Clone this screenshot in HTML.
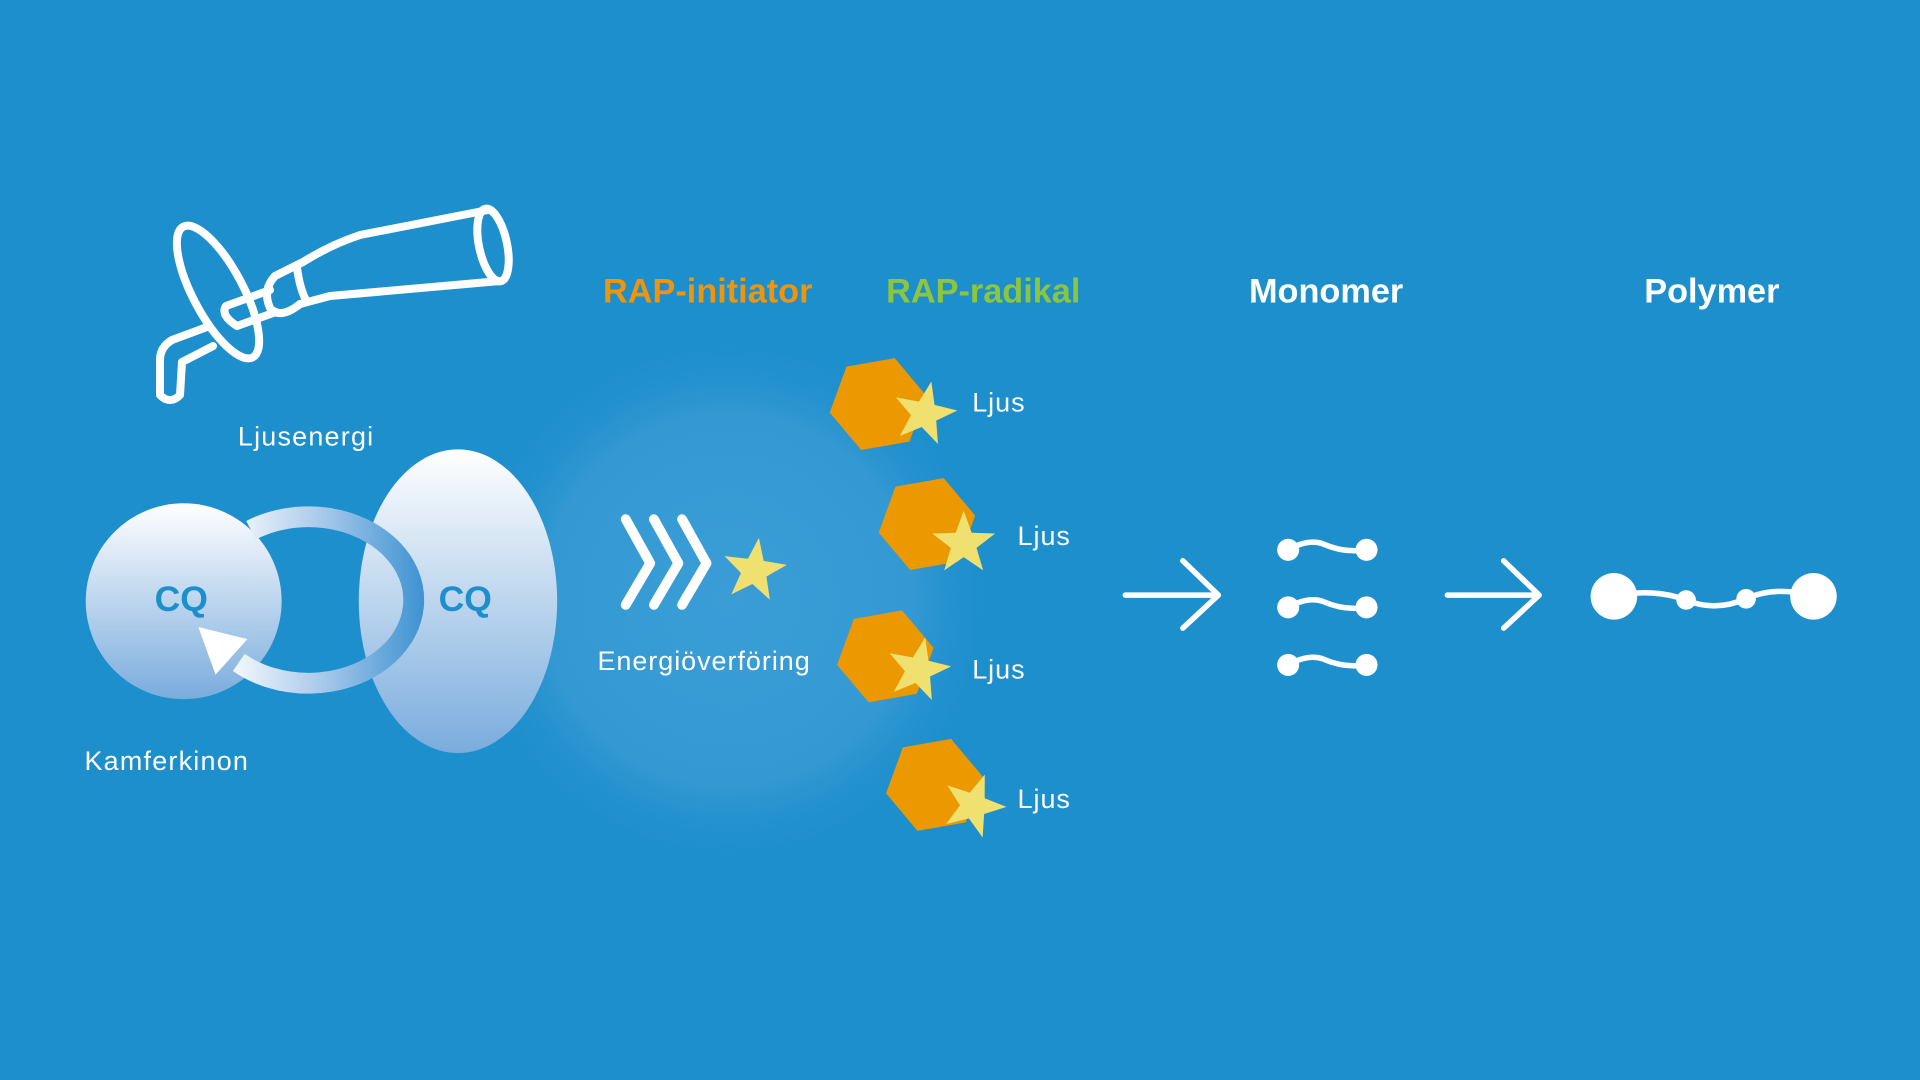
<!DOCTYPE html>
<html><head><meta charset="utf-8"><style>
html,body{margin:0;padding:0;background:#1e8fcd;}
svg{display:block}
text{font-family:"Liberation Sans",sans-serif;}
</style></head><body>
<svg width="1920" height="1080" viewBox="0 0 1568 882" xmlns="http://www.w3.org/2000/svg">
<defs>
<radialGradient id="glow" cx="0.5" cy="0.5" r="0.5">
<stop offset="0" stop-color="#3a9dd6"/><stop offset="0.7" stop-color="#3499d3"/><stop offset="1" stop-color="#1e8fcd" stop-opacity="0"/>
</radialGradient>
<linearGradient id="bub" x1="0" y1="0" x2="0" y2="1">
<stop offset="0" stop-color="#ffffff"/><stop offset="1" stop-color="#7aacdd"/>
</linearGradient>
<linearGradient id="ring" gradientUnits="userSpaceOnUse" x1="180" y1="0" x2="345" y2="0">
<stop offset="0" stop-color="#ffffff"/><stop offset="0.5" stop-color="#a9c9ea"/><stop offset="1" stop-color="#3f93d2"/>
</linearGradient>
<polygon id="star" points="0,-27 6.5,-8.9 25.7,-8.3 10.5,3.4 15.9,21.8 0,11 -15.9,21.8 -10.5,3.4 -25.7,-8.3 -6.5,-8.9" fill="#efe070"/>
<polygon id="hex" points="40,0 20,34.6 -20,34.6 -40,0 -20,-34.6 20,-34.6" fill="#ec9800"/>
</defs>
<rect width="1568" height="882" fill="#1e8fcd"/>
<circle cx="595" cy="490" r="215" fill="url(#glow)"/>

<!-- lamp -->
<g transform="scale(0.8167)" fill="none" stroke="#fff" stroke-width="8" stroke-linejoin="round" stroke-linecap="round">
<ellipse cx="493" cy="245" rx="14" ry="37" transform="rotate(-12 493 245)"/>
<path d="M488,210 L360,235 Q330,245 303,262 L275,276"/>
<path d="M500,281 L330,296 L300,304"/>
<path d="M297,268 Q300,290 307,302"/>
<path d="M275,276 Q262,290 270,308 Q280,320 300,304"/>
<ellipse cx="218" cy="292" rx="25" ry="74" transform="rotate(-28 218 292)"/>
<path d="M226,306 L270,290 M237,326 L276,312 M226,306 Q220,315 237,326"/>
<path d="M207,327 L172,340 Q160,347 160,360 L160,395 Q170,405 180,395 L182,362 L213,346"/>
</g>

<text x="250" y="364" font-size="22" letter-spacing="1" fill="#fff" text-anchor="middle">Ljusenergi</text>

<!-- CQ bubbles -->
<circle cx="150" cy="491" r="80" fill="url(#bub)"/>
<ellipse cx="374" cy="491" rx="81" ry="124" fill="url(#bub)"/>
<path d="M205,433 A86,68 0 1 1 195,541" fill="none" stroke="url(#ring)" stroke-width="17"/>
<polygon points="162,512 202,522 176,551" fill="#fff"/>
<text x="148" y="499" font-size="29" font-weight="bold" fill="#1e8fcd" text-anchor="middle">CQ</text>
<text x="380" y="499" font-size="29" font-weight="bold" fill="#1e8fcd" text-anchor="middle">CQ</text>
<text x="69" y="629" font-size="22" letter-spacing="1" fill="#fff">Kamferkinon</text>

<!-- chevrons -->
<g fill="none" stroke="#fff" stroke-width="8" stroke-linecap="round" stroke-linejoin="round">
<polyline points="511,424 531,460 511,494"/>
<polyline points="534,424 554,460 534,494"/>
<polyline points="557,424 577,460 557,494"/>
</g>
<use href="#star" transform="translate(616,466) rotate(8)"/>
<text x="575" y="547" font-size="22" letter-spacing="0.8" fill="#fff" text-anchor="middle">Energiöverföring</text>

<!-- headers -->
<text x="578" y="247" font-size="28" font-weight="bold" fill="#f0950a" text-anchor="middle">RAP-initiator</text>
<text x="803" y="247" font-size="28" font-weight="bold" fill="#8cc63f" text-anchor="middle">RAP-radikal</text>
<text x="1083" y="247" font-size="28" font-weight="bold" fill="#fff" text-anchor="middle">Monomer</text>
<text x="1398" y="247" font-size="28" font-weight="bold" fill="#fff" text-anchor="middle">Polymer</text>

<!-- radicals -->
<use href="#hex" transform="translate(717,330) rotate(-10)"/>
<use href="#star" transform="translate(755,338) rotate(12)"/>
<text x="794" y="336" font-size="22" letter-spacing="0.8" fill="#fff">Ljus</text>
<use href="#hex" transform="translate(757,428) rotate(-10)"/>
<use href="#star" transform="translate(787,444) rotate(0)"/>
<text x="831" y="445" font-size="22" letter-spacing="0.8" fill="#fff">Ljus</text>
<use href="#hex" transform="translate(723,536) rotate(-10)"/>
<use href="#star" transform="translate(750,547) rotate(12)"/>
<text x="794" y="554" font-size="22" letter-spacing="0.8" fill="#fff">Ljus</text>
<use href="#hex" transform="translate(763,641) rotate(-10)"/>
<use href="#star" transform="translate(795,658) rotate(20)"/>
<text x="831" y="660" font-size="22" letter-spacing="0.8" fill="#fff">Ljus</text>

<!-- arrows -->
<g fill="none" stroke="#fff" stroke-width="4.5" stroke-linecap="round" stroke-linejoin="round">
<path d="M919,486 L995,486 M966,458 L995,486 L966,513"/>
<path d="M1182,486 L1257,486 M1228,458 L1257,486 L1228,513"/>
<path d="M1052,449 Q1068,440 1080,444 Q1098,452 1116,449"/>
<path d="M1052,496 Q1068,487 1080,491 Q1098,499 1116,496"/>
<path d="M1052,543 Q1068,534 1080,538 Q1098,546 1116,543"/>
<path d="M1318,487 Q1350,480 1377,490 Q1400,500 1426,489 Q1450,478 1481,487"/>
</g>
<g fill="#fff">
<circle cx="1052" cy="449" r="9"/><circle cx="1116" cy="449" r="9"/>
<circle cx="1052" cy="496" r="9"/><circle cx="1116" cy="496" r="9"/>
<circle cx="1052" cy="543" r="9"/><circle cx="1116" cy="543" r="9"/>
<circle cx="1318" cy="487" r="19"/><circle cx="1481" cy="487" r="19"/>
<circle cx="1377" cy="490" r="8"/><circle cx="1426" cy="489" r="8"/>
</g>
</svg>
</body></html>
